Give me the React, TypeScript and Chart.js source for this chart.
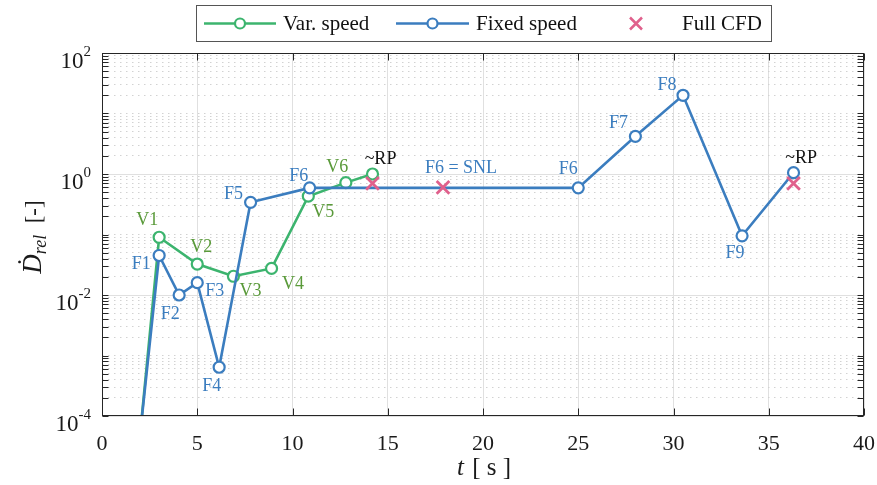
import React, { useEffect, useRef } from 'react';
import { Chart, registerables } from 'chart.js';

Chart.register(...registerables);

const SERIF = '"Liberation Serif", "Times New Roman", serif';

// ---- data ----
const fixedT = [2, 3, 4.05, 5, 6.15, 7.8, 10.9, 25, 28, 30.5, 33.6, 36.3];
const fixedD = [5e-5, 0.045, 0.01, 0.016, 6.4e-4, 0.34, 0.59, 0.59, 4.2, 20, 0.095, 1.05];
const varT = [2, 3, 5, 6.9, 8.9, 10.83, 12.8, 14.2];
const varD = [5e-5, 0.09, 0.0325, 0.0204, 0.0275, 0.43, 0.72, 1.0];
const cfdT = [14.2, 17.9, 36.3];
const cfdD = [0.7, 0.6, 0.7];

const xTickVals = [0, 5, 10, 15, 20, 25, 30, 35, 40];
const yLabelExps = [-4, -2, 0, 2];
const yTickVals: number[] = [];
for (let k = -4; k <= 1; k++) {
  for (let m = 1; m <= 9; m++) yTickVals.push(m * Math.pow(10, k));
}
yTickVals.push(100);

const legendNames = ['Var. speed', 'Fixed speed', 'Full CFD'];

// ---- styles ----
const GREEN = '#3cb46e';
const GREEN_TXT = '#5a9a3a';
const BLUE = '#3b7dbf';
const PINK = '#e0608c';

const seriesT: Record<string, number[]> = { fixed: fixedT, var: varT, cfd: cfdT };
const seriesD: Record<string, number[]> = { fixed: fixedD, var: varD, cfd: cfdD };

const pointLabels = [
  { s: 'var', i: 1, text: 'V1', dx: -12, dy: -18, c: GREEN_TXT },
  { s: 'fixed', i: 1, text: 'F1', dx: -18, dy: 8, c: BLUE },
  { s: 'var', i: 2, text: 'V2', dx: 4, dy: -18.5, c: GREEN_TXT },
  { s: 'fixed', i: 2, text: 'F2', dx: -9, dy: 18, c: BLUE },
  { s: 'fixed', i: 3, text: 'F3', dx: 17.5, dy: 7.5, c: BLUE },
  { s: 'fixed', i: 4, text: 'F4', dx: -7.5, dy: 17.5, c: BLUE },
  { s: 'var', i: 3, text: 'V3', dx: 17, dy: 13.5, c: GREEN_TXT },
  { s: 'var', i: 4, text: 'V4', dx: 21.5, dy: 14.5, c: GREEN_TXT },
  { s: 'fixed', i: 5, text: 'F5', dx: -17, dy: -9, c: BLUE },
  { s: 'fixed', i: 6, text: 'F6', dx: -11, dy: -12.5, c: BLUE },
  { s: 'var', i: 5, text: 'V5', dx: 15, dy: 15, c: GREEN_TXT },
  { s: 'var', i: 6, text: 'V6', dx: -8.5, dy: -17, c: GREEN_TXT },
  { s: 'var', i: 7, text: '~RP', dx: 8, dy: -16, c: '#111' },
  { s: 'cfd', i: 1, text: 'F6 = SNL', dx: 18, dy: -20, c: BLUE },
  { s: 'fixed', i: 7, text: 'F6', dx: -10, dy: -20, c: BLUE },
  { s: 'fixed', i: 8, text: 'F7', dx: -17, dy: -14, c: BLUE },
  { s: 'fixed', i: 9, text: 'F8', dx: -16, dy: -11, c: BLUE },
  { s: 'fixed', i: 10, text: 'F9', dx: -7, dy: 16, c: BLUE },
  { s: 'fixed', i: 11, text: '~RP', dx: 7.5, dy: -16, c: '#111' },
];

const isMajorY = (v?: number) => {
  if (v === undefined) return false;
  const e = Math.log10(v);
  const r = Math.round(e);
  return Math.abs(e - r) < 1e-6 && r % 2 === 0;
};

const decorPlugin = {
  id: 'decor',
  afterDraw(chart: any) {
    const { ctx, chartArea: ca, scales } = chart;
    const x = scales.x;
    const y = scales.y;
    ctx.save();

    // frame
    const L = Math.round(ca.left) + 0.5;
    const R = Math.round(ca.right) - 0.5;
    const T = Math.round(ca.top) + 0.5;
    const B = Math.round(ca.bottom) - 0.5;
    ctx.strokeStyle = '#262626';
    ctx.lineWidth = 1;
    ctx.strokeRect(L, T, R - L, B - T);

    // inward ticks
    ctx.beginPath();
    for (const t of xTickVals) {
      const px = Math.round(x.getPixelForValue(t)) + 0.5;
      ctx.moveTo(px, B);
      ctx.lineTo(px, B - 7);
      ctx.moveTo(px, T);
      ctx.lineTo(px, T + 7);
    }
    for (const v of yTickVals) {
      const py = Math.round(y.getPixelForValue(v)) + 0.5;
      ctx.moveTo(L, py);
      ctx.lineTo(L + 6, py);
      ctx.moveTo(R, py);
      ctx.lineTo(R - 6, py);
    }
    ctx.stroke();

    // x tick labels
    ctx.fillStyle = '#1a1a1a';
    ctx.font = `22px ${SERIF}`;
    ctx.textAlign = 'center';
    ctx.textBaseline = 'alphabetic';
    for (const t of xTickVals) {
      ctx.fillText(String(t), x.getPixelForValue(t), ca.bottom + 34);
    }

    // y tick labels 10^e
    for (const e of yLabelExps) {
      const py = y.getPixelForValue(Math.pow(10, e));
      const expStr = String(e);
      ctx.font = `15px ${SERIF}`;
      const we = ctx.measureText(expStr).width;
      ctx.font = `23px ${SERIF}`;
      const wb = ctx.measureText('10').width;
      const right = ca.left - 11;
      ctx.textAlign = 'left';
      ctx.fillText('10', right - we - wb, py + 15);
      ctx.font = `15px ${SERIF}`;
      ctx.fillText(expStr, right - we, py + 3);
    }

    // x title
    {
      ctx.font = `italic 25px ${SERIF}`;
      const w1 = ctx.measureText('t').width;
      ctx.font = `25px ${SERIF}`;
      const s2 = ' [ s ]';
      const w2 = ctx.measureText(s2).width;
      const cx = (ca.left + ca.right) / 2;
      const start = cx - (w1 + w2) / 2;
      ctx.textAlign = 'left';
      ctx.font = `italic 25px ${SERIF}`;
      ctx.fillText('t', start, 475);
      ctx.font = `25px ${SERIF}`;
      ctx.fillText(s2, start + w1 + 2, 475);
    }

    // y title
    {
      ctx.save();
      ctx.translate(41, 237);
      ctx.rotate(-Math.PI / 2);
      ctx.font = `italic 27px ${SERIF}`;
      const wD = ctx.measureText('Ḋ').width;
      ctx.font = `italic 18px ${SERIF}`;
      const wr = ctx.measureText('rel').width;
      ctx.font = `23px ${SERIF}`;
      const s3 = '  [-]';
      const w3 = ctx.measureText(s3).width;
      let sx = -(wD + wr + w3) / 2;
      ctx.textAlign = 'left';
      ctx.font = `italic 27px ${SERIF}`;
      ctx.fillText('Ḋ', sx, 0);
      sx += wD;
      ctx.font = `italic 18px ${SERIF}`;
      ctx.fillText('rel', sx, 5);
      sx += wr;
      ctx.font = `23px ${SERIF}`;
      ctx.fillText(s3, sx, 0);
      ctx.restore();
    }

    // point labels
    ctx.font = `18px ${SERIF}`;
    ctx.textAlign = 'center';
    ctx.textBaseline = 'alphabetic';
    for (const lb of pointLabels) {
      const px = x.getPixelForValue(seriesT[lb.s][lb.i]);
      const py = y.getPixelForValue(seriesD[lb.s][lb.i]);
      ctx.fillStyle = lb.c;
      ctx.fillText(lb.text, px + lb.dx, py + lb.dy + 6);
    }

    // legend
    {
      const bx = 196.5, by = 5.5, bw = 575, bh = 36;
      const cy = by + bh / 2;
      ctx.fillStyle = '#fff';
      ctx.fillRect(bx, by, bw, bh);
      ctx.strokeStyle = '#555';
      ctx.lineWidth = 1;
      ctx.strokeRect(bx, by, bw, bh);
      const drawLineMarker = (x0: number, x1: number, color: string) => {
        ctx.strokeStyle = color;
        ctx.lineWidth = 2.5;
        ctx.beginPath();
        ctx.moveTo(x0, cy);
        ctx.lineTo(x1, cy);
        ctx.stroke();
        ctx.beginPath();
        ctx.arc((x0 + x1) / 2, cy, 5, 0, Math.PI * 2);
        ctx.fillStyle = '#fff';
        ctx.fill();
        ctx.lineWidth = 2.2;
        ctx.stroke();
      };
      drawLineMarker(204, 276, GREEN);
      drawLineMarker(396, 469, BLUE);
      ctx.strokeStyle = PINK;
      ctx.lineWidth = 2.5;
      ctx.beginPath();
      ctx.moveTo(630, cy - 6);
      ctx.lineTo(642, cy + 6);
      ctx.moveTo(642, cy - 6);
      ctx.lineTo(630, cy + 6);
      ctx.stroke();
      ctx.fillStyle = '#111';
      ctx.font = `21px ${SERIF}`;
      ctx.textAlign = 'left';
      ctx.textBaseline = 'middle';
      ctx.fillText(legendNames[0], 283, cy + 1);
      ctx.fillText(legendNames[1], 476, cy + 1);
      ctx.fillText(legendNames[2], 682, cy + 1);
    }

    ctx.restore();
  },
};

export default function App() {
  const ref = useRef<HTMLCanvasElement | null>(null);
  useEffect(() => {
    if (!ref.current) return;
    const toXY = (ts: number[], ds: number[]) => ts.map((t, i) => ({ x: t, y: ds[i] }));
    const chart = new Chart(ref.current, {
      type: 'line',
      data: {
        datasets: [
          {
            label: legendNames[2],
            data: toXY(cfdT, cfdD),
            showLine: false,
            pointStyle: 'crossRot',
            pointRadius: 9,
            pointBorderWidth: 2.8,
            borderColor: PINK,
            backgroundColor: PINK,
          },
          {
            label: legendNames[1],
            data: toXY(fixedT, fixedD),
            borderColor: BLUE,
            borderWidth: 2.6,
            pointRadius: 5.5,
            pointBorderWidth: 2.2,
            pointBackgroundColor: '#fff',
            pointBorderColor: BLUE,
            tension: 0,
          },
          {
            label: legendNames[0],
            data: toXY(varT, varD),
            borderColor: GREEN,
            borderWidth: 2.6,
            pointRadius: 5.5,
            pointBorderWidth: 2.2,
            pointBackgroundColor: '#fff',
            pointBorderColor: GREEN,
            tension: 0,
          },
        ],
      } as any,
      options: {
        responsive: false,
        animation: false,
        devicePixelRatio: 1,
        layout: { padding: { top: 53, right: 13, left: 0, bottom: 0 } },
        plugins: { legend: { display: false }, tooltip: { enabled: false } },
        scales: {
          x: {
            type: 'linear',
            min: 0,
            max: 40,
            afterBuildTicks: (s: any) => {
              s.ticks = xTickVals.map((v) => ({ value: v }));
            },
            afterFit: (s: any) => {
              s.height = 69;
            },
            ticks: { display: false },
            grid: { color: '#e0e0e0', lineWidth: 1, drawTicks: false },
            border: { display: false },
          },
          y: {
            type: 'logarithmic',
            min: 1e-4,
            max: 100,
            afterBuildTicks: (s: any) => {
              s.ticks = yTickVals.map((v) => ({ value: v }));
            },
            afterFit: (s: any) => {
              s.width = 102;
            },
            ticks: { display: false },
            grid: {
              color: (c: any) => (c.tick && isMajorY(c.tick.value) ? '#e0e0e0' : '#d2d2d2'),
              lineWidth: 1,
              drawTicks: false,
            },
            border: {
              display: false,
              dash: (c: any) => (c.tick && !isMajorY(c.tick.value) ? [1.5, 4.5] : []),
            },
          },
        },
      } as any,
      plugins: [decorPlugin],
    });
    return () => chart.destroy();
  }, []);
  return (
    <div style={{ position: 'fixed', left: 0, top: 0, width: 877, height: 485, background: '#fff' }}>
      <canvas ref={ref} width={877} height={485} style={{ width: 877, height: 485, display: 'block' }} />
    </div>
  );
}
